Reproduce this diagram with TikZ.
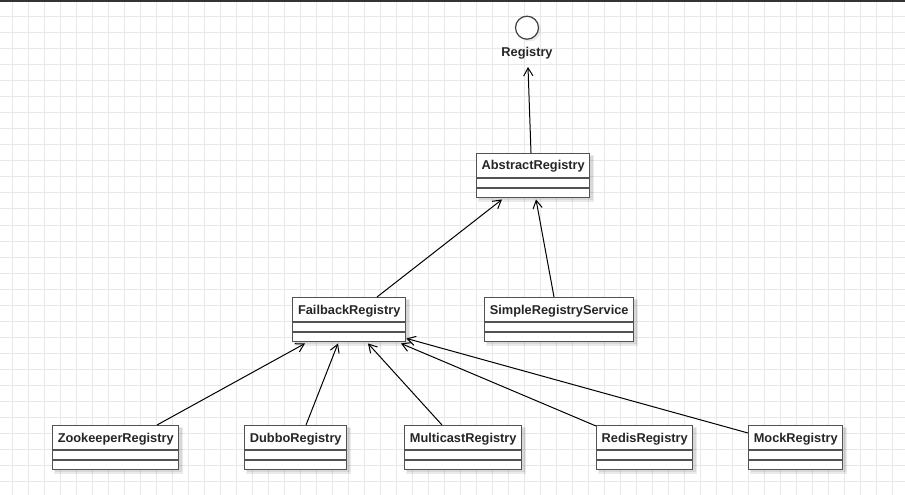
\documentclass[tikz,border=0pt]{standalone}
\usepackage{fontspec}
\setmainfont{Liberation Sans}
\usetikzlibrary{calc,arrows.meta}
\tikzset{
  gridline/.style={draw=black!9, line width=0.75pt},
  classbox/.style={draw=black!68, line width=1.1pt, fill=white, inner sep=0pt,
    anchor=north west, minimum height=33pt},
  divider/.style={draw=black!68, line width=1.1pt},
  shadowc/.style={fill=black, opacity=0.08},
  clsname/.style={font=\bfseries\fontsize{9.6pt}{11pt}\selectfont, text=black!85, anchor=base, inner sep=0pt},
  assoc/.style={draw=black, line width=0.75pt, -{Straight Barb[length=6pt,width=7pt,line width=0.75pt]}},
}
\newcommand\umlclass[5]{%
  \fill[shadowc] (#2+2,#3+2) rectangle ++(#4+3,47);
  \fill[shadowc] (#2+3,#3+3) rectangle ++(#4+1,44);
  \node[classbox, minimum width=#4*0.75pt] (#1) at (#2,#3) {};
  \draw[divider] ($(#1.north west)+(0,25)$) -- ($(#1.north east)+(0,25)$);
  \draw[divider] ($(#1.north west)+(0,35)$) -- ($(#1.north east)+(0,35)$);
  \node[clsname] (#1-name) at ($(#1.north)+(0,17)$) {#5};
}
\begin{document}
\begin{tikzpicture}[x=0.75pt,y=-0.75pt]
\useasboundingbox (0,0) rectangle (905,495);
\begin{scope}
\clip (0,0) rectangle (905,495);
\fill[white] (0,0) rectangle (905,495);
\foreach \gx in {12,28,...,904} \draw[gridline] (\gx,0) -- (\gx,495);
\foreach \gy in {1,17,...,494} \draw[gridline] (0,\gy) -- (905,\gy);
\draw[draw=black!80, line width=1.5pt] (0,0.9) -- (905,0.9);
\end{scope}

% interface
\fill[shadowc] (529.5,30) circle (11.5);
\node[circle, draw=black!75, line width=0.9pt, fill=white, minimum size=17.25pt, inner sep=0pt] (reg) at (527,27.7) {};
\node[clsname] (reglabel) at (527,57) {Registry};

\umlclass{abs}{476}{153}{113}{AbstractRegistry}
\umlclass{fail}{292}{297}{113}{FailbackRegistry}
\umlclass{simple}{484}{297}{149}{SimpleRegistryService}
\umlclass{zoo}{52}{425}{126}{ZookeeperRegistry}
\umlclass{dubbo}{244}{425}{102}{DubboRegistry}
\umlclass{multi}{404}{425}{117}{MulticastRegistry}
\umlclass{redis}{596}{425}{96}{RedisRegistry}
\umlclass{mock}{748}{425}{94}{MockRegistry}

\draw[assoc] ($(abs.north west)+(55,0)$) -- ($(reglabel.base)+(1,10)$);
\draw[assoc] ($(fail.north west)+(85,0)$) -- ($(abs.south west)+(26,1)$);
\draw[assoc] ($(simple.north west)+(70,0)$) -- ($(abs.south west)+(60,1)$);
\draw[assoc] ($(zoo.north west)+(105,0)$) -- ($(fail.south west)+(13,1)$);
\draw[assoc] ($(dubbo.north west)+(62,0)$) -- ($(fail.south west)+(46,1)$);
\draw[assoc] ($(multi.north west)+(38,0)$) -- ($(fail.south west)+(76,1)$);
\draw[assoc] ($(redis.north west)+(0,1)$) -- ($(fail.south west)+(109,1)$);
\draw[assoc] ($(mock.north west)+(0,8)$) -- ($(fail.south east)+(0,-4)$);
\end{tikzpicture}
\end{document}
